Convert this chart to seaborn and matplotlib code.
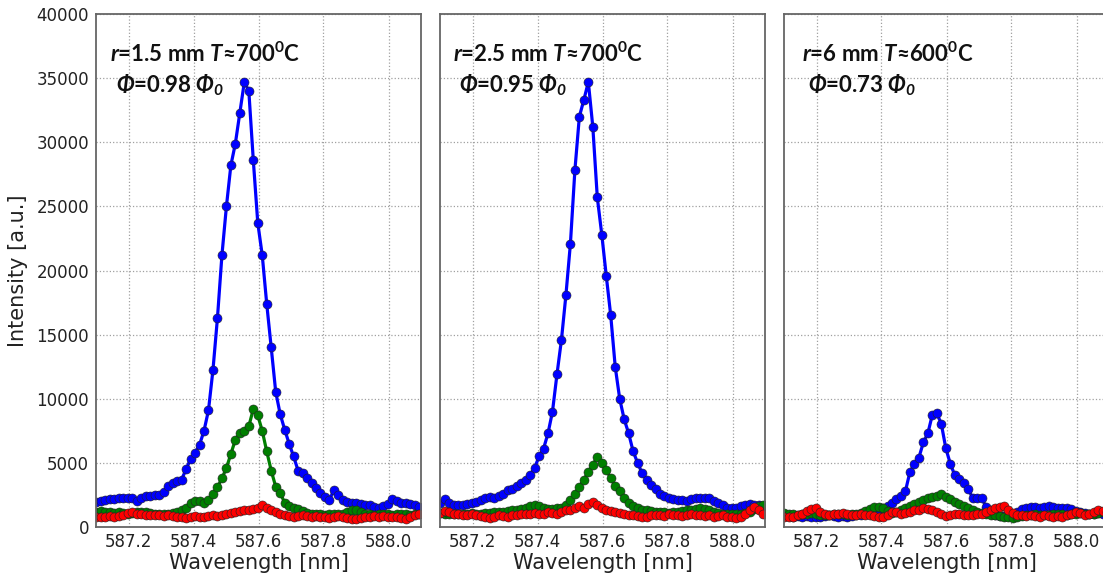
import numpy as np
import pandas as pd
import seaborn as sns
import matplotlib.pyplot as plt

# wavelength grid of the spectrometer (73 pixels between 587.1 and 588.1 nm)
wavelength = np.round(np.linspace(587.1015, 588.094, 73), 4)

# panel 1: r=1.5 mm
p1_blue = [1950, 2050, 2100, 2150, 2200, 2250, 2300, 2300, 2250, 2050,
           2300, 2400, 2450, 2500, 2500, 2750, 3200, 3400, 3600, 3700,
           4500, 5300, 5800, 6400, 7500, 9100, 12250, 16300, 21200, 25000,
           28200, 29900, 32300, 34700, 34000, 28600, 23700, 21200, 17400, 14000,
           10550, 8800, 7600, 6500, 5500, 4400, 4200, 3800, 3400, 3050,
           2650, 2350, 2100, 2900, 2500, 2100, 1950, 1850, 1900, 1800,
           1750, 1700, 1550, 1450, 1600, 1800, 2150, 2000, 1900, 1850,
           1800, 1750, 1550]
p1_green = [1200, 1250, 1200, 1150, 1100, 1150, 1100, 1050, 1100, 1150,
            1200, 1150, 1100, 1050, 1050, 1000, 1050, 1100, 1200, 1300,
            1500, 1850, 2000, 2000, 1850, 2100, 2600, 3100, 3800, 4600,
            5700, 6800, 7350, 7450, 7850, 9200, 8700, 7500, 5900, 4400,
            3150, 2650, 1900, 1600, 1500, 1400, 1250, 1100, 1050, 1000,
            1000, 950, 1000, 1050, 1000, 1050, 1150, 1300, 1350, 1200,
            1050, 1000, 950, 1000, 1050, 1000, 950, 1000, 1050, 1000,
            950, 1000, 1050]
p1_red = [800, 750, 800, 850, 800, 850, 950, 1100, 1200, 1050,
          1000, 950, 950, 900, 900, 850, 900, 850, 800, 750,
          700, 800, 850, 800, 750, 850, 900, 850, 900, 1000,
          1100, 1200, 1250, 1300, 1350, 1400, 1500, 1750, 1500, 1300,
          1150, 1050, 950, 850, 800, 850, 900, 850, 800, 850,
          750, 800, 700, 750, 850, 800, 700, 650, 600, 700,
          750, 800, 850, 800, 850, 800, 750, 800, 700, 650,
          750, 900, 1000]

# panel 2: r=2.5 mm
p2_blue = [1900, 2200, 1900, 1750, 1700, 1750, 1800, 1850, 1950, 2100,
           2250, 2350, 2300, 2450, 2600, 2850, 3000, 3200, 3400, 3650,
           4050, 4600, 5500, 6100, 7300, 9000, 11900, 14600, 18100, 22100,
           27800, 32000, 33300, 34700, 31200, 25700, 22800, 19600, 16500, 12500,
           10000, 8400, 7300, 5900, 5000, 4200, 3700, 3300, 3000, 2600,
           2400, 2250, 2150, 2100, 2100, 2050, 2200, 2300, 2300, 2300,
           2250, 2050, 1900, 1750, 1500, 1450, 1450, 1650, 1750, 1800,
           1750, 1700, 1600]
p2_green = [1100, 1050, 1000, 1050, 1000, 1000, 1050, 1100, 1050, 1050,
            1100, 1100, 1150, 1150, 1200, 1250, 1300, 1350, 1400, 1500,
            1600, 1700, 1600, 1450, 1400, 1400, 1450, 1500, 1700, 2100,
            2600, 3150, 3700, 4300, 4850, 5450, 5000, 4450, 3800, 3200,
            2800, 2300, 1900, 1600, 1450, 1350, 1300, 1250, 1200, 1150,
            1150, 1100, 1150, 1200, 1250, 1300, 1350, 1400, 1450, 1400,
            1300, 1200, 1100, 1050, 1050, 1000, 1000, 1050, 1100, 1200,
            1400, 1600, 1700]
p2_red = [1100, 1250, 1150, 1050, 1000, 950, 900, 1000, 950, 850,
          800, 700, 750, 900, 850, 800, 900, 950, 1000, 1050,
          1000, 1100, 1050, 1000, 1150, 1100, 1050, 1200, 1300, 1350,
          1450, 1650, 1500, 1800, 1950, 1700, 1450, 1300, 1250, 1150,
          1100, 1050, 950, 900, 850, 800, 750, 900, 950, 900,
          850, 1000, 950, 900, 850, 950, 1000, 950, 900, 850,
          900, 800, 850, 900, 800, 750, 700, 800, 1000, 1300,
          1550, 1300, 1050]

# panel 3: r=6 mm
p3_blue = [900, 850, 800, 850, 800, 850, 800, 750, 800, 850,
           900, 850, 800, 850, 800, 850, 900, 950, 1000, 1050,
           1150, 1300, 1450, 1650, 1900, 2150, 2450, 2800, 4300, 4900,
           5400, 6600, 7300, 8750, 8850, 8050, 6150, 4950, 4050, 3750,
           3400, 3000, 2250, 2250, 2300, 1550, 1100, 900, 850, 850,
           900, 1000, 1200, 1400, 1500, 1550, 1550, 1500, 1550, 1650,
           1550, 1500, 1450, 1450, 1400, 1250, 1150, 1100, 1000, 1050,
           1100, 1050, 1000]
p3_green = [1100, 1050, 1000, 950, 1000, 1050, 1100, 1000, 950, 900,
            950, 1000, 1050, 1000, 950, 1000, 1050, 1100, 1250, 1400,
            1550, 1550, 1450, 1250, 1100, 1150, 1300, 1450, 1600, 1800,
            1950, 2100, 2250, 2350, 2450, 2550, 2350, 2200, 1950, 1800,
            1650, 1450, 1300, 1150, 1100, 1000, 950, 900, 850, 800,
            750, 700, 750, 850, 900, 950, 1000, 950, 900, 950,
            1000, 1050, 1000, 950, 1000, 1050, 1100, 1050, 1000, 1050,
            1100, 1150, 1200]
p3_red = [800, 750, 800, 900, 1050, 1250, 1400, 1450, 1200, 1050,
          950, 1000, 1050, 1100, 1000, 950, 900, 1000, 950, 900,
          850, 800, 800, 950, 1200, 1150, 1050, 1100, 1200, 1300,
          1350, 1450, 1400, 1300, 1200, 1000, 850, 900, 1050, 1000,
          950, 900, 950, 1050, 1000, 1150, 1350, 1500, 1550, 1600,
          1350, 1100, 950, 900, 850, 900, 850, 800, 900, 850,
          800, 850, 800, 900, 1050, 1200, 1100, 950, 1000, 1150,
          1300, 1250, 1200]

panels = [(p1_blue, p1_green, p1_red),
          (p2_blue, p2_green, p2_red),
          (p3_blue, p3_green, p3_red)]

line1 = [r"$r$=1.5 mm $T$≈700$^{\mathbf{0}}$C",
         r"$r$=2.5 mm $T$≈700$^{\mathbf{0}}$C",
         r"$r$=6 mm $T$≈600$^{\mathbf{0}}$C"]
line2 = [r"$\Phi$=0.98 $\Phi_{0}$",
         r"$\Phi$=0.95 $\Phi_{0}$",
         r"$\Phi$=0.73 $\Phi_{0}$"]
text_x1 = [0.043, 0.041, 0.054]
text_x2 = [0.061, 0.059, 0.075]

series = ["blue", "green", "red"]
colores = {"blue": "#0000ff", "green": "#007f00", "red": "#ff0000"}

sns.set_style("whitegrid", {"grid.linestyle": ":", "grid.color": "#a0a0a0",
                            "axes.edgecolor": "#666666"})
plt.rcParams["font.family"] = ["DejaVu Sans"]
plt.rcParams["mathtext.fontset"] = "custom"
plt.rcParams["mathtext.rm"] = "Lato:italic:bold"
plt.rcParams["mathtext.it"] = "Lato:italic:bold"
plt.rcParams["mathtext.bf"] = "Lato:bold"

fig = plt.figure(figsize=(11.03, 5.79), dpi=100)
lefts = [96 / 1103, 440 / 1103, 784 / 1103]
axes = []
for k, left in enumerate(lefts):
    ax = fig.add_axes([left, 52 / 579, 325 / 1103, 513 / 579])
    axes.append(ax)

    blue, green, red = panels[k]
    df = pd.DataFrame({
        "wl": np.tile(wavelength, 3),
        "I": np.concatenate([blue, green, red]),
        "linea": np.repeat(series, len(wavelength)),
    })
    sns.lineplot(data=df, x="wl", y="I", hue="linea", hue_order=series,
                 palette=colores, marker="o", markersize=6.5,
                 markeredgecolor="#222222", markeredgewidth=0.4,
                 linewidth=2.3, estimator=None, sort=False, legend=False, ax=ax)

    ax.set_xlim(587.1, 588.1)
    ax.set_ylim(0, 40000)
    ax.set_xticks([587.2, 587.4, 587.6, 587.8, 588.0])
    ax.set_yticks(range(0, 40001, 5000))
    ax.grid(True, linestyle=":", color="#a0a0a0", linewidth=0.9)
    ax.tick_params(direction="in", length=4, width=1, color="#666666",
                   labelsize=12, labelcolor="#222222", pad=5)
    ax.tick_params(axis="x", pad=4)
    for s in ax.spines.values():
        s.set_linewidth(1.3)
        s.set_color("#666666")
    ax.set_xlabel("Wavelength [nm]", fontsize=15, color="#222222", labelpad=2)
    if k == 0:
        ax.set_ylabel("Intensity [a.u.]", fontsize=15, color="#222222", labelpad=6)
    else:
        ax.set_ylabel("")
        ax.set_yticklabels([])

    ax.text(text_x1[k], 0.906, line1[k], transform=ax.transAxes, fontsize=16,
            fontweight="bold", family=["Lato", "DejaVu Sans"], color="#111111",
            va="baseline", ha="left")
    ax.text(text_x2[k], 0.848, line2[k], transform=ax.transAxes, fontsize=16,
            fontweight="bold", family=["Lato", "DejaVu Sans"], color="#111111",
            va="baseline", ha="left")

fig.savefig("out.png", dpi=100)
